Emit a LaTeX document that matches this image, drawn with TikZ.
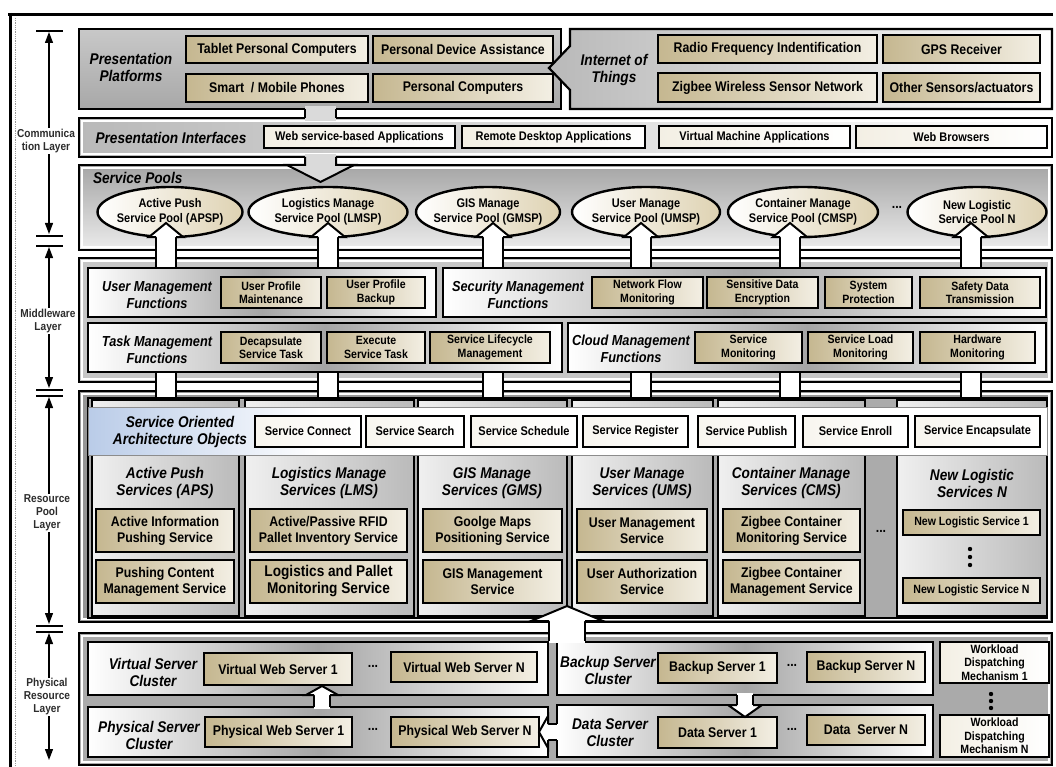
\documentclass[tikz,border=0pt]{standalone}
\usepackage{fontspec}
\setmainfont{Liberation Sans}[FakeStretch=0.88]
\usetikzlibrary{arrows.meta,shapes.geometric}
\definecolor{tanD}{RGB}{197,183,144}
\definecolor{tanL}{RGB}{243,239,228}
\definecolor{ellT}{RGB}{222,210,178}
\definecolor{soaB}{RGB}{186,204,232}
\definecolor{gAt}{RGB}{200,200,200}
\definecolor{gAb}{RGB}{168,168,168}
\definecolor{gIoT}{RGB}{185,185,185}
\definecolor{gInt}{RGB}{185,185,185}
\definecolor{gSt}{RGB}{165,165,165}
\definecolor{gSb}{RGB}{236,236,236}
\definecolor{gMid}{RGB}{198,198,198}
\definecolor{metal}{RGB}{165,165,165}
\definecolor{gRes}{RGB}{150,150,150}
\definecolor{colR}{RGB}{186,186,186}
\definecolor{gPhy}{RGB}{170,170,170}
\definecolor{neck}{RGB}{218,218,218}
\definecolor{axtxt}{RGB}{45,45,45}
\newcommand\myfs[2]{\fontsize{#1}{#2}\selectfont}
\newcommand\mybox[7]{\node[#6, minimum width={#4pt-#2pt}, minimum height={#5pt-#3pt}] (#1) at ({(#2+#4)/2},{(#3+#5)/2}) {#7};}
\newcommand\innerline[4]{\draw[white, line width=1.2pt] (#1+3,#2+3) rectangle (#3-3,#4-3);}
\tikzset{
  every node/.style={inner sep=0pt, outer sep=0pt},
  panel/.style={draw=black, line width=2.2pt},
  sub/.style={draw=black, line width=2.4pt, left color=white, right color=white, middle color=metal},
  bx/.style={draw=black, line width=2.4pt, align=center},
  tbox/.style={bx, left color=tanD, right color=tanL, font=\myfs{14}{15}\bfseries},
  ibox/.style={bx, left color=tanL, right color=white, font=\myfs{12.5}{14}\bfseries},
  mbox/.style={bx, left color=tanD, right color=tanL, font=\myfs{12}{13.5}\bfseries},
  sbox/.style={bx, left color=tanL!60!white, right color=white, font=\myfs{12.5}{14}\bfseries},
  cbox/.style={bx, left color=tanD, right color=tanL, font=\myfs{14}{16}\bfseries},
  nbox/.style={bx, left color=tanD, right color=tanL, font=\myfs{12}{14}\bfseries},
  wbox/.style={bx, left color=tanL, right color=white, font=\myfs{12}{13.5}\bfseries},
  col/.style={draw=black, line width=2.4pt, left color=white!94!black, right color=colR},
  lab/.style={align=center, font=\myfs{15.5}{17}\bfseries\itshape},
  mlab/.style={align=center, font=\myfs{14.5}{16.5}\bfseries\itshape},
  pool/.style={ellipse, draw=black, line width=2.4pt, left color=white, right color=ellT},
  pooltxt/.style={align=center, font=\myfs{12.5}{14.5}\bfseries},
  axl/.style={align=center, fill=white, font=\myfs{11.5}{13}\bfseries, text=axtxt, inner sep=1pt},
  axarrow/.style={line width=1.3pt, {Triangle[length=11pt,width=8pt]}-{Triangle[length=11pt,width=8pt]}},
  axtick/.style={line width=1.5pt},
  blk/.style={draw=black, line width=2pt, line join=miter},
  sepdots/.style={font=\myfs{14}{14}\bfseries}
}
\begin{document}
\begin{tikzpicture}[x=1pt,y=-1pt]
\useasboundingbox (0,0) rectangle (1056,767);
\fill[white] (0,0) rectangle (1056,767);
% frame
\draw[line width=3.5pt] (8,14.5) -- (1053,14.5);
\draw[line width=3.5pt] (10.5,13) -- (10.5,767);
\draw[black!40, densely dotted, line width=0.8pt] (15,18) -- (15,767);
% layer axis
\draw[axtick] (36,31) -- (63,31);
\draw[axarrow] (49,32) -- (49,234);
\draw[axtick] (36,236) -- (63,236);
\draw[axtick] (36,246) -- (63,246);
\draw[axarrow] (49,247) -- (49,388);
\draw[axtick] (36,390) -- (63,390);
\draw[axtick] (36,396) -- (63,396);
\draw[axarrow] (49,397) -- (49,624);
\draw[axtick] (36,626) -- (63,626);
\draw[axtick] (36,632) -- (63,632);
\draw[axarrow] (49,633) -- (49,760);
\node[axl] (lcom) at (46,141) {Communica\\tion Layer};
\node[axl] (lmid) at (48,321) {Middleware\\Layer};
\node[axl] (lres) at (47,513) {Resource\\Pool\\Layer};
\node[axl] (lphy) at (47,697) {Physical\\Resource\\Layer};
% ---------- communication layer ----------
\mybox{pp}{79}{29}{561}{109}{panel, top color=gAt, bottom color=gAb}{}
\path[panel, left color=gIoT, right color=white] (1052,29) -- (570,29) -- (570,46) -- (549,68) -- (570,90) -- (570,109) -- (1052,109) -- cycle;
\node[lab] (pplab) at (131,67) {Presentation\\Platforms};
\mybox{tpc}{186}{36}{368}{63}{tbox}{Tablet Personal Computers}
\mybox{pda}{373}{36}{553}{63}{tbox}{Personal Device Assistance}
\mybox{smp}{186}{74}{368}{102}{tbox}{Smart \ / Mobile Phones}
\mybox{pcs}{373}{74}{553}{102}{tbox}{Personal Computers}
\node[lab] (iotlab) at (614,70) {Internet of\\Things};
\mybox{rfi}{658}{35}{877}{63}{tbox}{Radio Frequency Indentification}
\mybox{gps}{883}{35}{1040}{63}{tbox}{GPS Receiver}
\mybox{zws}{658}{73}{877}{102}{tbox}{Zigbee Wireless Sensor Network}
\mybox{oth}{883}{73}{1040}{102}{tbox}{Other Sensors/actuators}
\mybox{pi}{79}{118}{1052}{157}{panel, left color=gInt, right color=white}{}
\innerline{79}{118}{1052}{157}
\node[lab] (pilab) at (171,138) {Presentation Interfaces};
\mybox{wsa}{264}{126}{455}{148}{ibox}{Web service-based Applications}
\mybox{rda}{462}{126}{645}{148}{ibox}{Remote Desktop Applications}
\mybox{vma}{659}{126}{850}{148}{ibox}{Virtual Machine Applications}
\mybox{wbr}{856}{126}{1047}{148}{ibox}{Web Browsers}
% neck between platforms and interfaces
\fill[neck] (305,106) rectangle (336,121);
\draw[blk] (305,109) -- (305,118) (336,109) -- (336,118);
% service pools
\mybox{sp}{79}{165}{1052}{250}{panel, top color=gSt, bottom color=gSb}{}
\innerline{79}{165}{1052}{250}
\fill[neck] (305,154) rectangle (336,168);
\filldraw[blk, fill=neck] (305,157) -- (305,165) -- (287,165) -- (320.5,182) -- (354,165) -- (336,165) -- (336,157);
\node[lab, anchor=west] (splab) at (93,178) {Service Pools};
\node[pool, minimum width=145, minimum height=50] (apsp) at (170,212) {};
\node[pooltxt] at (apsp) {Active Push\\Service Pool (APSP)};
\node[pool, minimum width=159, minimum height=50] (lmsp) at (328,212) {};
\node[pooltxt] at (lmsp) {Logistics Manage\\Service Pool (LMSP)};
\node[pool, minimum width=144, minimum height=50] (gmsp) at (488,212) {};
\node[pooltxt] at (gmsp) {GIS Manage\\Service Pool (GMSP)};
\node[pool, minimum width=148, minimum height=50] (umsp) at (646,212) {};
\node[pooltxt] at (umsp) {User Manage\\Service Pool (UMSP)};
\node[pool, minimum width=150, minimum height=50] (cmsp) at (803,212) {};
\node[pooltxt] at (cmsp) {Container Manage\\Service Pool (CMSP)};
\node[pool, minimum width=139, minimum height=50] (newp) at (977,212) {};
\node[pooltxt] at (newp) {New Logistic\\Service Pool N};
\node[sepdots] (pdots) at (897,207) {...};
% ---------- middleware / resource / physical outer panels ----------
\mybox{mw}{79}{258}{1052}{382}{panel, fill=gMid}{}
\innerline{79}{258}{1052}{382}
\mybox{rp}{79}{391}{1052}{622}{panel, fill=gRes}{}
\innerline{79}{391}{1052}{622}
\mybox{ph}{79}{633}{1052}{765}{panel, fill=gPhy}{}
\innerline{79}{633}{1052}{765}
% up arrows into the service pools
\foreach \cx in {166,328,493,641,790,971} {
  \fill[white] (\cx-10,236) rectangle (\cx+10,270);
  \draw[blk] (\cx-10,237) -- (\cx-10,268) (\cx+10,237) -- (\cx+10,268);
  \filldraw[blk, fill=white] (\cx-10,237) -- (\cx-17,237) -- (\cx,223) -- (\cx+17,237) -- (\cx+10,237);
  \fill[white] (\cx-10,370) rectangle (\cx+10,400);
  \draw[blk] (\cx-10,372) -- (\cx-10,398) (\cx+10,372) -- (\cx+10,398);
}
% ---------- middleware ----------
\mybox{umf}{88}{268}{436}{317}{sub}{}
\mybox{smf}{443}{268}{1046}{317}{sub}{}
\mybox{tmf}{88}{323}{562}{372}{sub}{}
\mybox{cmf}{568}{323}{1046}{372}{sub}{}
\node[mlab] (umflab) at (157,295) {User Management\\Functions};
\node[mlab] (smflab) at (518,295) {Security Management\\Functions};
\node[mlab] (tmflab) at (157,350) {Task Management\\Functions};
\node[mlab] (cmflab) at (631,349) {Cloud Management\\Functions};
\mybox{upm}{221}{277}{321}{308}{mbox}{User Profile\\Maintenance}
\mybox{upb}{327}{277}{425}{308}{mbox}{User Profile\\Backup}
\mybox{nfm}{592}{277}{703}{308}{mbox}{Network Flow\\Monitoring}
\mybox{sde}{707}{277}{818}{308}{mbox}{Sensitive Data\\Encryption}
\mybox{spr}{825}{277}{912}{308}{mbox}{System\\Protection}
\mybox{sdt}{920}{277}{1040}{308}{mbox}{Safety Data\\Transmission}
\mybox{dst}{221}{332}{321}{363}{mbox}{Decapsulate\\Service Task}
\mybox{est}{327}{332}{425}{363}{mbox}{Execute\\Service Task}
\mybox{slm}{430}{332}{550}{363}{mbox}{Service Lifecycle\\Management}
\mybox{smo}{695}{332}{802}{363}{mbox}{Service\\Monitoring}
\mybox{slo}{808}{332}{913}{363}{mbox}{Service Load\\Monitoring}
\mybox{hwm}{920}{332}{1035}{363}{mbox}{Hardware\\Monitoring}
% ---------- resource pool ----------
\mybox{rpin}{88}{398}{1047}{618}{draw=black, line width=1.8pt, fill=gRes!80!white}{}
\mybox{caps}{92}{400}{239}{616}{col}{}
\mybox{clms}{245}{400}{414}{616}{col}{}
\mybox{cgms}{418}{400}{567}{616}{col}{}
\mybox{cums}{572}{400}{713}{616}{col}{}
\mybox{ccms}{718}{400}{865}{616}{col}{}
\mybox{cnew}{897}{400}{1047}{616}{col}{}
\mybox{soa}{88}{407}{1047}{455}{draw=black!45, line width=1pt, fill=white}{}
\fill[left color=soaB, right color=white] (89,408) rectangle (320,454);
\node[lab] (soalab) at (180,432) {Service Oriented\\Architecture Objects};
\mybox{scon}{255}{416}{361}{447}{sbox}{Service Connect}
\mybox{ssea}{366}{416}{464}{447}{sbox}{Service Search}
\mybox{ssch}{471}{416}{577}{447}{sbox}{Service Schedule}
\mybox{sreg}{583}{416}{688}{447}{sbox}{Service Register}
\mybox{spub}{698}{416}{795}{447}{sbox}{Service Publish}
\mybox{senr}{803}{416}{908}{447}{sbox}{Service Enroll}
\mybox{senc}{915}{416}{1040}{447}{sbox}{Service Encapsulate}
\node[lab] (hAPS) at (165,483) {Active Push\\Services (APS)};
\node[lab] (hLMS) at (329,483) {Logistics Manage\\Services (LMS)};
\node[lab] (hGMS) at (492,483) {GIS Manage\\Services (GMS)};
\node[lab] (hUMS) at (642,483) {User Manage\\Services (UMS)};
\node[lab] (hCMS) at (791,483) {Container Manage\\Services (CMS)};
\node[lab] (hNEW) at (972,483) {New Logistic\\Services N};
\mybox{aips}{96}{509}{234}{552}{cbox}{Active Information\\Pushing Service}
\mybox{pcms}{96}{560}{234}{603}{cbox}{Pushing Content\\Management Service}
\mybox{rfid}{250}{509}{407}{552}{cbox}{Active/Passive RFID\\Pallet Inventory Service}
\mybox{lpms}{250}{560}{407}{603}{cbox, font=\myfs{15.5}{17}\bfseries}{Logistics and Pallet\\Monitoring Service}
\mybox{gmps}{423}{509}{562}{552}{cbox}{Goolge Maps\\Positioning Service}
\mybox{gism}{423}{560}{562}{603}{cbox}{GIS Management\\Service}
\mybox{umse}{577}{509}{707}{552}{cbox}{User Management\\Service}
\mybox{uaus}{577}{560}{707}{603}{cbox}{User Authorization\\Service}
\mybox{zcmo}{723}{509}{860}{552}{cbox}{Zigbee Container\\Monitoring Service}
\mybox{zcma}{723}{560}{860}{603}{cbox}{Zigbee Container\\Management Service}
\mybox{nls1}{903}{510}{1040}{535}{nbox}{New Logistic Service 1}
\mybox{nlsn}{903}{578}{1040}{603}{nbox}{New Logistic Service N}
\foreach \yy in {549,557,565} \fill (970,\yy) circle (2.2);
\node[sepdots] (cdots) at (881,531) {...};
% ---------- physical resource ----------
\mybox{vsc}{88}{642}{548}{695}{sub}{}
\mybox{psc}{88}{707}{548}{757}{sub}{}
\mybox{bsc}{557}{642}{933}{695}{sub}{}
\mybox{dsc}{557}{705}{933}{757}{sub}{}
\node[lab] (vsclab) at (153,672) {Virtual Server\\Cluster};
\node[lab] (psclab) at (149,735) {Physical Server\\Cluster};
\node[lab] (bsclab) at (608,670) {Backup Server\\Cluster};
\node[lab] (dsclab) at (610,733) {Data Server\\Cluster};
\mybox{vws1}{204}{653}{352}{685}{tbox}{Virtual Web Server 1}
\mybox{vwsn}{391}{652}{537}{682}{tbox}{Virtual Web Server N}
\mybox{pws1}{205}{717}{352}{747}{tbox}{Physical Web Server 1}
\mybox{pwsn}{391}{717}{539}{747}{tbox}{Physical Web Server N}
\mybox{bs1}{658}{653}{777}{683}{tbox}{Backup Server 1}
\mybox{bsn}{807}{652}{925}{682}{tbox}{Backup Server N}
\mybox{ds1}{658}{717}{777}{748}{tbox}{Data Server 1}
\mybox{dsn}{807}{715}{925}{745}{tbox}{Data \ Server N}
\node[sepdots] (vdots) at (373,666) {...};
\node[sepdots] (pdots2) at (373,729) {...};
\node[sepdots] (bdots) at (792,665) {...};
\node[sepdots] (ddots) at (792,729) {...};
\mybox{wdm1}{940}{642}{1049}{683}{wbox}{Workload\\Dispatching\\Mechanism 1}
\mybox{wdmn}{940}{715}{1049}{757}{wbox}{Workload\\Dispatching\\Mechanism N}
\foreach \yy in {694,701,708} \fill (991,\yy) circle (2.2);
% physical -> resource big arrow
\fill[white] (549,618) rectangle (585,643);
\draw[blk] (549,621) -- (549,641) (585,621) -- (585,641);
\filldraw[blk, fill=white] (549,621) -- (531,621) -- (567,606) -- (603,621) -- (585,621);
% physical cluster -> virtual web server 1
\fill[white] (314,693) rectangle (330,709);
\draw[blk] (314,695) -- (314,707) (330,695) -- (330,707);
\filldraw[blk, fill=white] (314,695) -- (306,695) -- (322,686) -- (338,695) -- (330,695);
% backup cluster -> data server 1
\fill[white] (737,693) rectangle (753,707);
\draw[blk] (737,695) -- (737,705) (753,695) -- (753,705);
\filldraw[blk, fill=white] (737,705) -- (728,705) -- (745,717) -- (762,705) -- (753,705);
% data cluster -> physical web server N
\fill[white] (546,724) rectangle (559,740);
\draw[blk] (548,724) -- (557,724) (548,740) -- (557,740);
\filldraw[blk, fill=white] (548,724) -- (548,716) -- (539,732) -- (548,748) -- (548,740);
\end{tikzpicture}
\end{document}
